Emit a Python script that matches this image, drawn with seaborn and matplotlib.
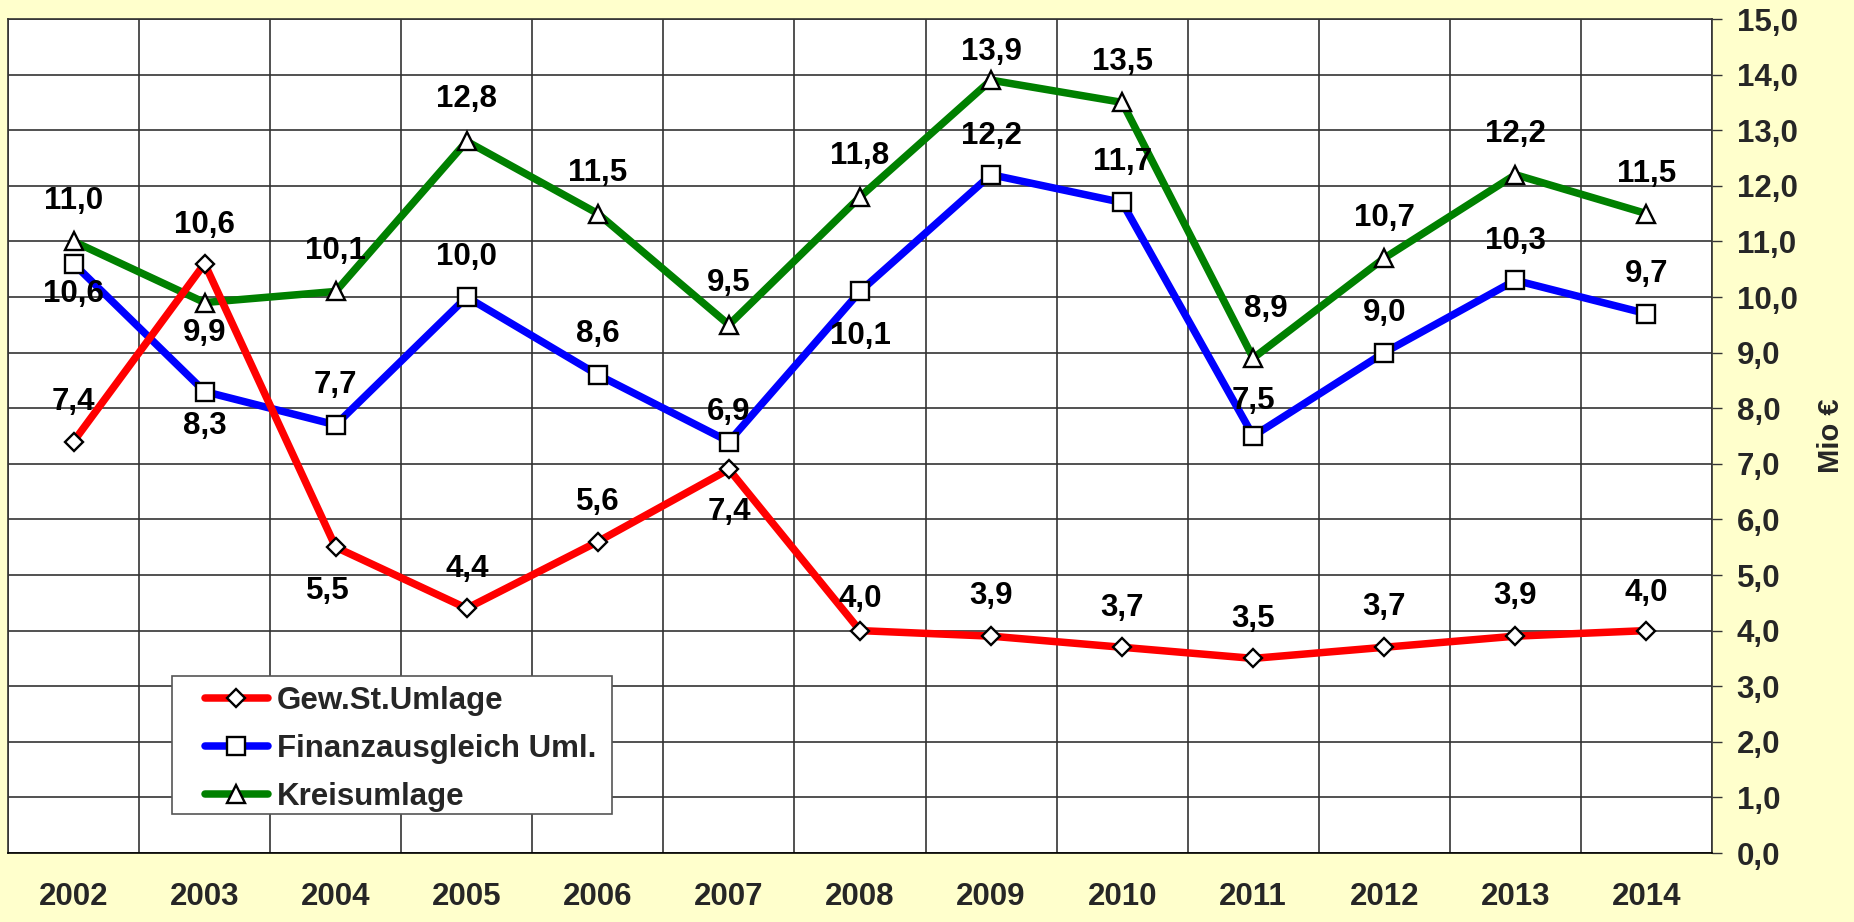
import matplotlib
matplotlib.use("Agg")
import matplotlib.pyplot as plt
from matplotlib.patches import Rectangle
import seaborn as sns
import pandas as pd

# ---------------- data ----------------
years = [2002, 2003, 2004, 2005, 2006, 2007, 2008, 2009, 2010, 2011, 2012, 2013, 2014]
gew_st_umlage = [7.4, 10.6, 5.5, 4.4, 5.6, 6.9, 4.0, 3.9, 3.7, 3.5, 3.7, 3.9, 4.0]
finanzausgleich = [10.6, 8.3, 7.7, 10.0, 8.6, 7.4, 10.1, 12.2, 11.7, 7.5, 9.0, 10.3, 9.7]
kreisumlage = [11.0, 9.9, 10.1, 12.8, 11.5, 9.5, 11.8, 13.9, 13.5, 8.9, 10.7, 12.2, 11.5]
series_names = ["Gew.St.Umlage", "Finanzausgleich Uml.", "Kreisumlage"]
y_ticks = list(range(0, 16))
y_label = "Mio €"

# ---------------- styles ----------------
colors = {"Gew.St.Umlage": "#FF0000", "Finanzausgleich Uml.": "#0000FF", "Kreisumlage": "#008000"}
markers = {"Gew.St.Umlage": "D", "Finanzausgleich Uml.": "s", "Kreisumlage": "^"}
msizes = {"Gew.St.Umlage": 9.0, "Finanzausgleich Uml.": 12.5, "Kreisumlage": 13.0}
# label offsets (pixels) for each point, (dx, dy)
label_offsets = {
    "Gew.St.Umlage": [(0, 40), (0, 39), (-8, -44), (0, 39), (0, 40), (0, 57), (0, 32),
                      (0, 40), (0, 39), (0, 39), (0, 40), (0, 40), (0, 38)],
    "Finanzausgleich Uml.": [(0, -30), (0, -34), (0, 40), (0, 40), (0, 41), (0, -70), (0, -45),
                             (0, 39), (0, 40), (0, 35), (0, 40), (0, 39), (0, 40)],
    "Kreisumlage": [(0, 40), (0, -30), (0, 40), (0, 42), (0, 41), (0, 42), (0, 41),
                    (0, 28), (0, 40), (13, 49), (0, 40), (0, 41), (0, 40)],
}

FS = 22.5

sns.set_theme(style="white")
plt.rcParams["font.family"] = ["Liberation Sans", "DejaVu Sans"]
plt.rcParams["font.weight"] = "bold"

BG = "#FFFFCC"
GRID = "#333333"

df = pd.DataFrame({
    "Jahr": years * 3,
    "Wert": gew_st_umlage + finanzausgleich + kreisumlage,
    "Reihe": [series_names[0]] * len(years) + [series_names[1]] * len(years) + [series_names[2]] * len(years),
})

W, H = 1854, 922
fig = plt.figure(figsize=(W / 100, H / 100), dpi=100, facecolor=BG)
left, right, top, bottom = 8, 1712, 19, 853
ax = fig.add_axes([left / W, (H - bottom) / H, (right - left) / W, (bottom - top) / H])
ax.set_facecolor("white")

handles = {}
draw_order = ["Kreisumlage", "Finanzausgleich Uml.", "Gew.St.Umlage"]
for i, name in enumerate(draw_order):
    sub = df[df["Reihe"] == name]
    sns.lineplot(data=sub, x="Jahr", y="Wert", ax=ax, color=colors[name],
                 linewidth=5.4, marker=markers[name], markersize=msizes[name],
                 markerfacecolor="white", markeredgecolor="black", markeredgewidth=1.7,
                 label=name, zorder=3 + i, legend=False)
    handles[name] = ax.lines[-1]

# data labels
for name in series_names:
    sub = df[df["Reihe"] == name]
    for (x, v), (dx, dy) in zip(zip(sub["Jahr"], sub["Wert"]), label_offsets[name]):
        ax.annotate(f"{v:.1f}".replace(".", ","), (x, v), xytext=(dx, dy),
                    textcoords="offset pixels", ha="center", va="center",
                    fontsize=FS, fontweight="bold", color="black", zorder=10)

# axes
ax.set_xlim(years[0] - 0.5, years[-1] + 0.5)
ax.set_ylim(y_ticks[0], y_ticks[-1])
ax.set_xticks(years)
ax.set_xticklabels([str(y) for y in years])
ax.set_xticks([y + 0.5 for y in [years[0] - 1] + years], minor=True)
ax.set_yticks(y_ticks)
ax.set_yticklabels([f"{t:.1f}".replace(".", ",") for t in y_ticks])
ax.yaxis.tick_right()
ax.yaxis.set_label_position("right")
ax.set_xlabel("")
ax.set_ylabel(y_label, fontsize=21, fontweight="bold", labelpad=14)

ax.tick_params(axis="x", which="both", length=0, pad=21, labelsize=FS)
ax.tick_params(axis="y", which="major", length=7.2, width=1.0, color=GRID, pad=10.5,
               labelsize=FS, right=True, left=False)
for lab in ax.get_xticklabels() + ax.get_yticklabels():
    lab.set_fontweight("bold")

ax.grid(False)
ax.grid(axis="y", which="major", color=GRID, linewidth=1.2)
ax.grid(axis="x", which="minor", color=GRID, linewidth=1.2)
for s in ax.spines.values():
    s.set_visible(True)
    s.set_color(GRID)
    s.set_linewidth(1.2)
ax.spines["bottom"].set_color("black")

# legend box
ph = bottom - top
pw = right - left
bx0, bx1, by0, by1 = 172, 612, 676, 814
rect = Rectangle(((bx0 - left) / pw, (bottom - by1) / ph), (bx1 - bx0) / pw, (by1 - by0) / ph,
                 transform=ax.transAxes, facecolor="white", edgecolor="#555555",
                 linewidth=1.2, zorder=20)
ax.add_patch(rect)
leg = ax.legend([handles[n] for n in series_names], series_names, loc="upper left",
                bbox_to_anchor=((205 - left) / pw, (bottom - 686) / ph), frameon=False,
                borderpad=0, borderaxespad=0, handlelength=2.0, handletextpad=0.3,
                labelspacing=0.58, prop={"weight": "bold", "size": FS})
leg.set_zorder(21)

fig.savefig("out.png", dpi=100, facecolor=BG)
